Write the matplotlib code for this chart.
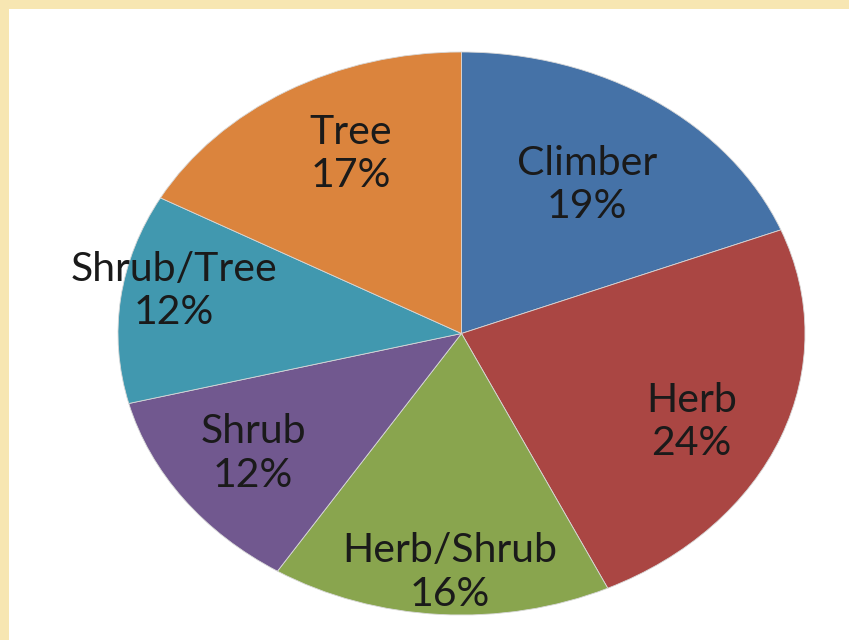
import matplotlib
matplotlib.use("Agg")
import matplotlib.pyplot as plt
import numpy as np

# data
categories = ["Climber", "Herb", "Herb/Shrub", "Shrub", "Shrub/Tree", "Tree"]
shares = [19, 24, 16, 12, 12, 17]
colors = ["#4572A7", "#AA4643", "#89A54E", "#71588F", "#4198AF", "#DB843D"]

# label placement: fraction of radius along the slice middle, plus a small nudge
label_dist = [0.65, 0.72, 0.85, 0.75, 0.845, 0.73]
label_nudge = [(0.0, -0.01), (0.0, -0.05), (0.02, 0.0), (0.0, 0.015), (0.0, 0.045), (0.05, 0.01)]

fig = plt.figure(figsize=(8.49, 6.40), dpi=100)
fig.patch.set_facecolor("#F7E6B2")

# white slide area inside the yellow frame
bg = fig.add_axes([9 / 849, 0, 1 - 9 / 849, 1 - 9 / 640])
bg.set_facecolor("white")
bg.set_xticks([])
bg.set_yticks([])
for s in bg.spines.values():
    s.set_visible(False)

ax = fig.add_axes([118 / 849, 25 / 640, 687 / 849, 563 / 640])
wedges, _ = ax.pie(
    shares,
    colors=colors,
    startangle=90,
    counterclock=False,
    radius=1,
    wedgeprops=dict(edgecolor="#d8d8d8", linewidth=0.6),
)
ax.set_aspect("auto")
ax.set_xlim(-1, 1)
ax.set_ylim(-1, 1)
ax.axis("off")

for w, name, val, d, (nx_, ny_) in zip(wedges, categories, shares, label_dist, label_nudge):
    mid = np.deg2rad((w.theta1 + w.theta2) / 2)
    ax.text(d * np.cos(mid) + nx_, d * np.sin(mid) + ny_, f"{name}\n{val}%",
            ha="center", va="center", fontsize=29.5, family="Lato",
            color="#1a1a1a", linespacing=1.22)

fig.savefig("out.png", dpi=100, facecolor=fig.get_facecolor())
